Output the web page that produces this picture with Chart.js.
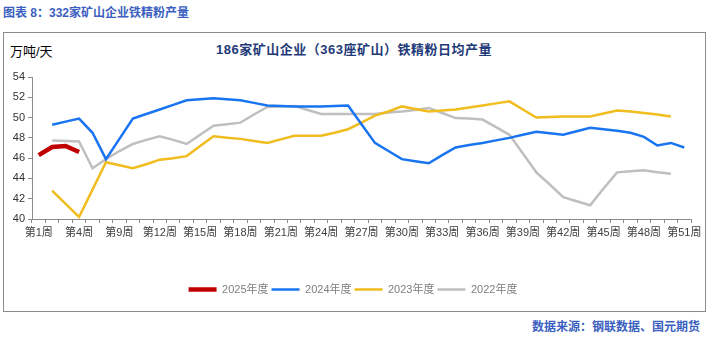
<!DOCTYPE html>
<html>
<head>
<meta charset="utf-8">
<script src="https://cdn.jsdelivr.net/npm/chart.js@4.4.1/dist/chart.umd.min.js"></script>
<style>
  body { margin: 0; width: 712px; height: 344px; background: #fff; position: relative; overflow: hidden;
         font-family: "Liberation Sans", "Noto Sans CJK SC", sans-serif; }
  .txt { position: absolute; line-height: 16px; white-space: nowrap; }
  #hdr { left: 3px; top: 5px; font-size: 12px; font-weight: bold; color: #3b5fc0; }
  #frame { position: absolute; left: 3px; top: 32px; width: 703px; height: 280px; border: 1px solid #8c8c8c; box-sizing: border-box; }
  #unit { left: 10px; top: 44px; font-size: 13px; color: #000; }
  #ttl { left: 0; width: 708px; text-align: center; top: 42px; font-size: 13px; font-weight: bold; color: #1f3a78; letter-spacing: 0.5px; }
  #src { right: 12px; top: 319px; font-size: 12px; font-weight: bold; color: #3b5fc0; }
  #wrap { position: absolute; left: 0; top: 0; width: 712px; height: 344px; }
</style>
</head>
<body>
<div class="txt" id="hdr">图表 8：332家矿山企业铁精粉产量</div>
<div id="frame"></div>
<div class="txt" id="unit">万吨/天</div>
<div class="txt" id="ttl">186家矿山企业（363座矿山）铁精粉日均产量</div>
<div class="txt" id="src">数据来源：钢联数据、国元期货</div>
<div id="wrap"><canvas id="chart" width="712" height="344"></canvas></div>
<script>
// week numbers on the x axis (weeks 5 and 6 are not in the series)
const weeks = [1, 2, 3, 4, 7, 8, 9, 10, 11, 12, 13, 14, 15, 16, 17, 18, 19, 20, 21, 22, 23, 24, 25,
  26, 27, 28, 29, 30, 31, 32, 33, 34, 35, 36, 37, 38, 39, 40, 41, 42, 43, 44, 45, 46, 47, 48, 49, 50, 51];
const categories = weeks.map((w) => "第" + w + "周");

const seriesNames = ["2025年度", "2024年度", "2023年度", "2022年度"];

const y2025 = [46.3, 47.1, 47.2, 46.6];
const y2024 = [null, 49.3, 49.6, 49.9, 48.5, 45.9, 47.9, 49.9, 50.35, 50.8, 51.25, 51.7, 51.8, 51.9,
  51.8, 51.7, 51.45, 51.2, 51.15, 51.1, 51.1, 51.1, 51.15, 51.2, 49.35, 47.5, 46.7, 45.9, 45.7, 45.5,
  46.3, 47.05, 47.3, 47.5, 47.75, 48.0, 48.3, 48.6, 48.45, 48.3, 48.65, 49.0, 48.85, 48.7, 48.5, 48.1,
  47.25, 47.5, 47.05];
const y2023 = [null, 42.8, 41.5, 40.2, 42.9, 45.6, 45.3, 45.0, 45.4, 45.85, 46.0, 46.2, 47.2, 48.15,
  48.0, 47.9, 47.7, 47.5, 47.85, 48.2, 48.2, 48.2, 48.5, 48.85, 49.5, 50.2, 50.6, 51.1, 50.85, 50.6,
  50.7, 50.8, 51.0, 51.2, 51.4, 51.6, 50.8, 50.0, 50.05, 50.1, 50.1, 50.1, 50.4, 50.7, 50.6, 50.45,
  50.3, 50.1, null];
const y2022 = [null, 47.75, 47.7, 47.65, 45.0, 45.9, 46.7, 47.4, 47.8, 48.15, 47.8, 47.4, 48.3, 49.2,
  49.35, 49.5, 50.3, 51.05, 51.1, 51.15, 50.75, 50.35, 50.35, 50.35, 50.35, 50.35, 50.5, 50.6, 50.75,
  50.95, 50.45, 49.95, 49.9, 49.8, 49.05, 48.3, 46.45, 44.6, 43.4, 42.15, 41.75, 41.35, 43.0, 44.6,
  44.7, 44.8, 44.6, 44.45, null];

const yMin = 40;
const yMax = 54;
const yStep = 2;

const font = '"Liberation Sans", "Noto Sans CJK SC", sans-serif';

function line(label, data, color, width) {
  return {
    label: label,
    data: data,
    borderColor: color,
    backgroundColor: color,
    borderWidth: width,
    pointRadius: 0,
    pointHoverRadius: 0,
    tension: 0,
    fill: false,
  };
}

const ctx = document.getElementById("chart").getContext("2d");
new Chart(ctx, {
  type: "line",
  data: {
    labels: categories,
    datasets: [
      line(seriesNames[0], y2025, "#c00000", 4.5),
      line(seriesNames[1], y2024, "#1874f0", 2.5),
      line(seriesNames[2], y2023, "#f0bc1e", 2.5),
      line(seriesNames[3], y2022, "#bfbfbf", 2.5),
    ],
  },
  options: {
    responsive: false,
    animation: false,
    devicePixelRatio: 1,
    layout: { padding: { top: 77, left: 0, right: 6, bottom: 39 } },
    scales: {
      x: {
        type: "category",
        offset: true,
        afterFit: (s) => { s.height = 62; },
        grid: { offset: true, drawOnChartArea: false, drawTicks: true, tickLength: 4, color: "#8c8c8c" },
        border: { display: true, color: "#8c8c8c", width: 1 },
        ticks: {
          autoSkip: false,
          maxRotation: 0,
          padding: 3,
          color: "#404040",
          font: { family: font, size: 11 },
          callback: function (val, i) {
            return i % 3 === 0 ? this.getLabelForValue(val) : "";
          },
        },
      },
      y: {
        min: yMin,
        max: yMax,
        afterFit: (s) => { s.width = 32; },
        grid: { drawOnChartArea: false, drawTicks: true, tickLength: 4, color: "#8c8c8c" },
        border: { display: true, color: "#8c8c8c", width: 1 },
        ticks: { stepSize: yStep, padding: 3, color: "#333333", font: { family: font, size: 11 } },
      },
      // empty spacer on the right so the plot ends where the reference does
      yRight: {
        position: "right",
        display: true,
        afterFit: (s) => { s.width = 15; },
        grid: { display: false },
        border: { display: false },
        ticks: { display: false },
      },
    },
    plugins: {
      legend: {
        position: "bottom",
        labels: {
          usePointStyle: true,
          pointStyle: "line",
          pointStyleWidth: 28,
          padding: 3,
          color: "#7f7f7f",
          font: { family: font, size: 11 },
        },
      },
      tooltip: { enabled: false },
    },
  },
});
</script>
</body>
</html>
